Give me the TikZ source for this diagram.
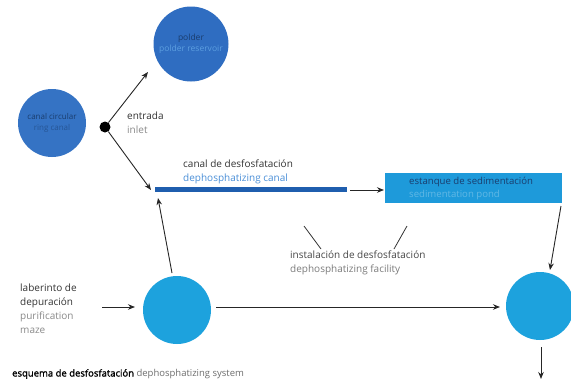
\documentclass[tikz,border=0pt]{standalone}
\usepackage{fontspec}
\setmainfont{Open Sans}
\usetikzlibrary{arrows.meta}
\definecolor{darkcirc}{HTML}{2F6DC1}
\definecolor{ringcirc}{HTML}{3573C4}
\definecolor{lightcirc}{HTML}{1DA2DD}
\definecolor{barblue}{HTML}{1F5EAE}
\definecolor{pondblue}{HTML}{1E9ADA}
\definecolor{navy}{HTML}{1A3D6E}
\definecolor{paleblue}{HTML}{5C9FE0}
\definecolor{darktxt}{HTML}{333333}
\definecolor{greytxt}{HTML}{8A8A8A}
\definecolor{ltblue}{HTML}{4A8FD8}
\tikzset{
  arr/.style={draw=black!85, line width=0.9pt, -{Stealth[length=7pt,width=5.5pt]}},
  disc/.style={circle, inner sep=0pt, draw=none},
  lbl/.style={anchor=west, inner sep=0pt, align=left, font=\fontsize{10}{14}\selectfont},
}
\begin{document}
\begin{tikzpicture}[x=1pt,y=-1pt]
\useasboundingbox[fill=white] (0,0) rectangle (571,381);
% circles
\node[disc, fill=ringcirc, minimum size=68pt, align=center, font=\fontsize{8}{12}\selectfont] (ring) at (52,123)
  {\textcolor{navy}{canal circular}\\[-1pt]\textcolor{navy!55!ringcirc}{ring canal}};
\node[disc, fill=darkcirc, minimum size=75pt, align=center, font=\fontsize{8.5}{12}\selectfont] (polder) at (191,44)
  {\textcolor{navy}{polder}\\[-1pt]\textcolor{paleblue}{polder reservoir}};
\node[disc, fill=black, minimum size=11pt] (dot) at (105,127) {};
\node[disc, fill=lightcirc, minimum size=68pt] (lc) at (177,310) {};
\node[disc, fill=lightcirc, minimum size=68pt] (rc) at (540,306) {};
% canal bar and pond
\node[fill=barblue, minimum width=192pt, minimum height=4.5pt, inner sep=0pt] (canal) at (251,189.5) {};
\node[fill=pondblue, minimum width=177pt, minimum height=30pt, inner sep=0pt] (pond) at (473.5,188) {};
\node[lbl, font=\fontsize{9.6}{13}\selectfont] (pondtxt) at (409,188)
  {\textcolor{navy}{estanque de sedimentación}\\\textcolor{pondblue!70!white}{sedimentation pond}};
% labels
\node[lbl] (entrada) at (127,123) {\textcolor{darktxt}{entrada}\\\textcolor{greytxt}{inlet}};
\node[lbl] (canaltxt) at (183,171.5) {\textcolor{darktxt}{canal de desfosfatación}\\\textcolor{ltblue}{dephosphatizing canal}};
\node[lbl] (inst) at (290,263) {\textcolor{darktxt!90}{instalación de desfosfatación}\\\textcolor{greytxt!90!black}{dephosphatizing facility}};
\node[lbl] (lab) at (20,309) {\textcolor{darktxt}{laberinto de}\\\textcolor{darktxt}{depuración}\\\textcolor{greytxt}{purification}\\\textcolor{greytxt}{maze}};
\node[anchor=base west, inner sep=0pt, font=\fontsize{9.5}{12}\selectfont] (caption) at (12,376.5)
  {\textcolor{black}{\addfontfeatures{FakeBold=1.5}esquema de desfosfatación} \textcolor{greytxt!80!black}{dephosphatizing system}};
% coordinates for free ends
\coordinate (pt1) at (148,72);
\coordinate (ct1) at (151,190);
\coordinate (ca) at (350,190);
\coordinate (pa) at (384,190);
\coordinate (p1) at (561,206);
\coordinate (r1) at (550,270);
\coordinate (r2) at (541,347);
\coordinate (r3) at (541,379);
\coordinate (l1) at (172,273);
\coordinate (l2) at (158,198);
\coordinate (m1) at (102,307);
\coordinate (m2) at (135,307);
\coordinate (h1) at (216,307);
\coordinate (h2) at (500,307);
\coordinate (i1) at (304,226);
\coordinate (i2) at (321,249);
\coordinate (i3) at (407,226);
\coordinate (i4) at (394,249);
% connectors
\draw[arr] (dot) -- (pt1);
\draw[arr] (dot) -- (ct1);
\draw[arr] (ca) -- (pa);
\draw[arr] (p1) -- (r1);
\draw[arr] (r2) -- (r3);
\draw[arr] (l1) -- (l2);
\draw[arr] (m1) -- (m2);
\draw[arr] (h1) -- (h2);
\draw[black!80, line width=0.8pt] (i1) -- (i2);
\draw[black!80, line width=0.8pt] (i3) -- (i4);
\end{tikzpicture}
\end{document}
